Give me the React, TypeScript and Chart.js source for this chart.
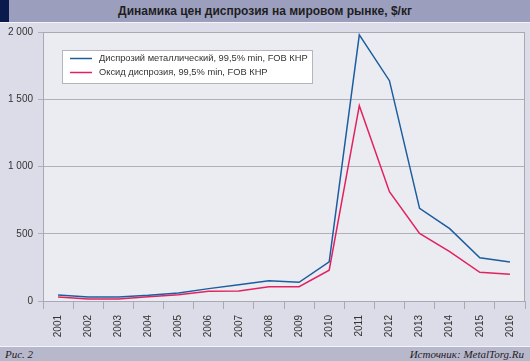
import React, { useEffect, useRef } from "react";
import { Chart, registerables } from "chart.js";

Chart.register(...registerables);

const years = ["2001", "2002", "2003", "2004", "2005", "2006", "2007", "2008", "2009", "2010", "2011", "2012", "2013", "2014", "2015", "2016"];
const metalLabel = "Диспрозий металлический, 99,5% min, FOB КНР";
const oxideLabel = "Оксид диспрозия, 99,5% min, FOB КНР";
const metalValues = [45, 30, 30, 42, 59, 92, 121, 151, 139, 291, 1978, 1638, 689, 538, 322, 290];
const oxideValues = [30, 15, 15, 32, 47, 72, 74, 106, 106, 229, 1452, 813, 503, 367, 213, 198];
const yTicks = [0, 500, 1000, 1500, 2000];

const BLUE = "#1d5d9e";
const RED = "#e2225f";

const plotBg = {
  id: "plotBg",
  beforeDraw(chart: any) {
    const { ctx, chartArea: a } = chart;
    ctx.save();
    ctx.fillStyle = "#ebecf2";
    ctx.fillRect(a.left, a.top, a.right - a.left, a.bottom - a.top);
    ctx.restore();
  },
  afterDatasetsDraw(chart: any) {
    const { ctx, chartArea: a } = chart;
    ctx.save();
    ctx.strokeStyle = "#a9a9b5";
    ctx.lineWidth = 1;
    ctx.beginPath();
    ctx.moveTo(a.left, a.top + 0.5);
    ctx.lineTo(a.right - 0.5, a.top + 0.5);
    ctx.lineTo(a.right - 0.5, a.bottom);
    ctx.stroke();
    // legend box
    const x = 62, y = 50, w = 250, h = 33;
    ctx.fillStyle = "#ffffff";
    ctx.fillRect(x, y, w, h);
    ctx.strokeStyle = "#b4b4be";
    ctx.strokeRect(x + 0.5, y + 0.5, w, h);
    const ds = chart.data.datasets;
    ctx.font = "9.3px 'Liberation Sans', Arial, sans-serif";
    ctx.textBaseline = "middle";
    ds.forEach((d: any, i: number) => {
      const ly = y + 8.5 + i * 14;
      ctx.strokeStyle = d.borderColor;
      ctx.lineWidth = 1.5;
      ctx.beginPath();
      ctx.moveTo(70, ly);
      ctx.lineTo(92, ly);
      ctx.stroke();
      ctx.fillStyle = "#333333";
      ctx.fillText(d.label, 99, ly);
    });
    ctx.restore();
  },
};

export default function App() {
  const ref = useRef<HTMLCanvasElement>(null);
  useEffect(() => {
    document.body.style.margin = "0";
    const chart = new Chart(ref.current as HTMLCanvasElement, {
      type: "line",
      data: {
        labels: years,
        datasets: [
          { label: metalLabel, data: metalValues, borderColor: BLUE, backgroundColor: BLUE, borderWidth: 1.5, pointRadius: 0, tension: 0 },
          { label: oxideLabel, data: oxideValues, borderColor: RED, backgroundColor: RED, borderWidth: 1.5, pointRadius: 0, tension: 0 },
        ],
      },
      options: {
        responsive: false,
        animation: false,
        layout: { padding: { top: 32, right: 5, left: 0, bottom: 0 } },
        plugins: { legend: { display: false }, tooltip: { enabled: false }, title: { display: false } },
        scales: {
          x: {
            type: "category",
            offset: true,
            afterFit(scale: any) { scale.height = 45; },
            grid: { offset: true, drawOnChartArea: false, drawTicks: true, tickLength: 8, color: "#a9a9b5" },
            border: { display: true, color: "#a9a9b5" },
            ticks: { minRotation: 90, maxRotation: 90, padding: 6, color: "#333", font: { family: "'Liberation Sans', Arial, sans-serif", size: 10 } },
          },
          y: {
            min: 0,
            max: 2000,
            afterFit(scale: any) { scale.width = 43; },
            afterBuildTicks(scale: any) { scale.ticks = yTicks.map((v) => ({ value: v })); },
            grid: { color: "#b0b0bb", tickLength: 5, drawTicks: true },
            border: { display: true, color: "#a9a9b5" },
            ticks: {
              padding: 5,
              color: "#333",
              font: { family: "'Liberation Sans', Arial, sans-serif", size: 10 },
              callback: (v: any) => String(v).replace(/\B(?=(\d{3})+(?!\d))/g, " "),
            },
          },
        },
      },
      plugins: [plotBg],
    } as any);
    return () => chart.destroy();
  }, []);

  return (
    <div style={{ position: "relative", width: 530, height: 361, background: "#dbdce7", overflow: "hidden" }}>
      <div style={{ position: "absolute", left: 0, top: 0, width: 530, height: 22, background: "#9c9ebe" }} />
      <div style={{ position: "absolute", left: 0, top: 0, width: 9, height: 22, background: "#0b1a4d" }} />
      <div style={{ position: "absolute", left: 0, top: 22, width: 530, height: 1, background: "#f4f4f8" }} />
      <div style={{ position: "absolute", left: 0, top: 0, width: 530, height: 22, lineHeight: "22px", textAlign: "center", fontFamily: "'Liberation Sans', Arial, sans-serif", fontWeight: "bold", fontSize: 12, color: "#1e1e1e" }}>
        Динамика цен диспрозия на мировом рынке, $/кг
      </div>
      <canvas ref={ref} width={530} height={346} style={{ position: "absolute", left: 0, top: 0 }} />
      <div style={{ position: "absolute", left: 0, top: 346, width: 530, height: 1, background: "#f4f4f8" }} />
      <div style={{ position: "absolute", left: 0, top: 347, width: 530, height: 14, background: "#b7b8cc" }} />
      <div style={{ position: "absolute", left: 5, top: 347, height: 14, lineHeight: "14px", fontFamily: "'Liberation Serif', 'Times New Roman', serif", fontStyle: "italic", fontSize: 11, color: "#222" }}>
        Рис. 2
      </div>
      <div style={{ position: "absolute", right: 6, top: 347, height: 14, lineHeight: "14px", fontFamily: "'Liberation Serif', 'Times New Roman', serif", fontStyle: "italic", fontSize: 11, color: "#222" }}>
        Источник: MetalTorg.Ru
      </div>
    </div>
  );
}
